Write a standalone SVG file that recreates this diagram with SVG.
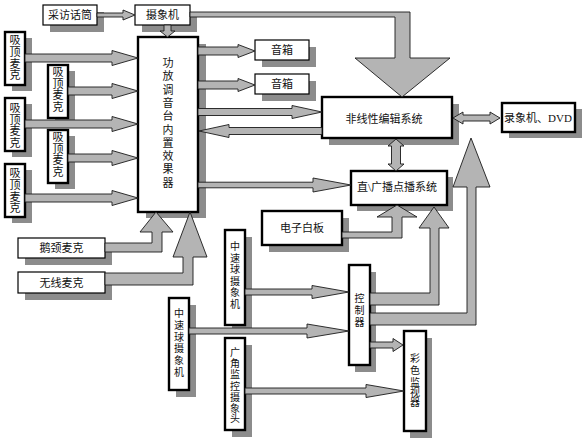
<svg xmlns="http://www.w3.org/2000/svg" width="586" height="444" viewBox="0 0 586 444">
<style>
.sh{fill:#8c8c8c}
.b1{fill:#fff;stroke:#000;stroke-width:1.2}
.b2{fill:#fff;stroke:#000;stroke-width:2.4}
.ar{fill:#b4b4b4;stroke:#1a1a1a;stroke-width:0.9;stroke-linejoin:miter}
text{font-family:"Liberation Serif","Noto Sans CJK SC",serif;font-size:11px;fill:#111;text-anchor:middle}
.s{font-size:10px}
</style>
<rect width="586" height="444" fill="#fff"/>
<g id="n-caifang"><rect class="sh" x="50" y="12" width="54" height="20"/><rect class="b1" x="43" y="5" width="54" height="20"/><text x="70" y="19">采访话筒</text></g>
<g id="n-shexiangji"><rect class="sh" x="142" y="12" width="55" height="20"/><rect class="b1" x="135" y="5" width="55" height="20"/><text x="162.5" y="19">摄象机</text></g>
<g id="n-mic1"><rect class="sh" x="12" y="38" width="20" height="53"/><rect class="b2" x="5" y="32" width="20" height="53"/><text x="15" y="44">吸</text><text x="15" y="56">顶</text><text x="15" y="67.5">麦</text><text x="15" y="79">克</text></g>
<g id="n-mic2"><rect class="sh" x="55" y="71" width="20" height="53"/><rect class="b2" x="48" y="65" width="20" height="53"/><text x="58" y="76">吸</text><text x="58" y="87.5">顶</text><text x="58" y="99">麦</text><text x="58" y="111">克</text></g>
<g id="n-mic3"><rect class="sh" x="12" y="104" width="20" height="53"/><rect class="b2" x="5" y="98" width="20" height="53"/><text x="15" y="112">吸</text><text x="15" y="124">顶</text><text x="15" y="135">麦</text><text x="15" y="147">克</text></g>
<g id="n-mic4"><rect class="sh" x="55" y="136" width="20" height="53"/><rect class="b2" x="48" y="130" width="20" height="53"/><text x="58" y="141">吸</text><text x="58" y="153">顶</text><text x="58" y="164">麦</text><text x="58" y="176">克</text></g>
<g id="n-mic5"><rect class="sh" x="12" y="170" width="20" height="53"/><rect class="b2" x="5" y="164" width="20" height="53"/><text x="15" y="177">吸</text><text x="15" y="189">顶</text><text x="15" y="201">麦</text><text x="15" y="212">克</text></g>
<g id="n-mixer"><rect class="sh" x="146" y="44" width="60" height="174"/><rect class="b2" x="138" y="37" width="60" height="175"/><text x="168" y="67">功</text><text x="168" y="80.3">放</text><text x="168" y="93.6">调</text><text x="168" y="106.9">音</text><text x="168" y="120.2">台</text><text x="168" y="133.5">内</text><text x="168" y="146.8">置</text><text x="168" y="160.1">效</text><text x="168" y="173.4">果</text><text x="168" y="186.7">器</text></g>
<g id="n-spk1"><rect class="sh" x="262" y="47" width="54" height="20"/><rect class="b1" x="255" y="40" width="54" height="20"/><text x="282" y="54">音箱</text></g>
<g id="n-spk2"><rect class="sh" x="262" y="81" width="54" height="20"/><rect class="b1" x="255" y="74" width="54" height="20"/><text x="282" y="88">音箱</text></g>
<g id="n-nle"><rect class="sh" x="329" y="104" width="130" height="41"/><rect class="b2" x="322" y="97" width="130" height="41"/><text x="384" y="123">非线性编辑系统</text></g>
<g id="n-dvd"><rect class="sh" x="509" y="109" width="73" height="29"/><rect class="b2" x="502" y="103" width="73" height="29"/><text x="538" y="122">录象机、DVD</text></g>
<g id="n-broadcast"><rect class="sh" x="357" y="177" width="96" height="34"/><rect class="b2" x="351" y="171" width="96" height="34"/><text x="397" y="191">直\广播点播系统</text></g>
<g id="n-whiteboard"><rect class="sh" x="269" y="218" width="80" height="34"/><rect class="b2" x="262" y="211" width="80" height="34"/><text x="302" y="232">电子白板</text></g>
<g id="n-gooseneck"><rect class="sh" x="25" y="245" width="87" height="20"/><rect class="b1" x="18" y="238" width="87" height="20"/><text x="61.5" y="252">鹅颈麦克</text></g>
<g id="n-wireless"><rect class="sh" x="25" y="279" width="87" height="21"/><rect class="b1" x="18" y="272" width="87" height="21"/><text x="61.5" y="287">无线麦克</text></g>
<g id="n-cam1"><rect class="sh" x="232" y="237" width="20" height="95"/><rect class="b2" x="225" y="230" width="20" height="95"/><text class="s" x="235" y="250">中</text><text class="s" x="235" y="261.5">速</text><text class="s" x="235" y="273">球</text><text class="s" x="235" y="284.5">摄</text><text class="s" x="235" y="296">象</text><text class="s" x="235" y="308">机</text></g>
<g id="n-cam2"><rect class="sh" x="176" y="305" width="20" height="92"/><rect class="b2" x="169" y="298" width="20" height="92"/><text class="s" x="179" y="317">中</text><text class="s" x="179" y="329">速</text><text class="s" x="179" y="341">球</text><text class="s" x="179" y="352">摄</text><text class="s" x="179" y="364">象</text><text class="s" x="179" y="376">机</text></g>
<g id="n-widecam"><rect class="sh" x="232" y="345" width="20" height="92"/><rect class="b2" x="225" y="338" width="20" height="92"/><text class="s" x="235" y="356">广</text><text class="s" x="235" y="367">角</text><text class="s" x="235" y="378">监</text><text class="s" x="235" y="390">控</text><text class="s" x="235" y="401">摄</text><text class="s" x="235" y="412">象</text><text class="s" x="235" y="422">头</text></g>
<g id="n-controller"><rect class="sh" x="355" y="272" width="21" height="100"/><rect class="b2" x="349" y="265" width="21" height="100"/><text class="s" x="359.5" y="302">控</text><text class="s" x="359.5" y="314">制</text><text class="s" x="359.5" y="326">器</text></g>
<g id="n-monitor"><rect class="sh" x="410" y="338" width="22" height="100"/><rect class="b2" x="404" y="331" width="22" height="100"/><text class="s" x="415" y="362">彩</text><text class="s" x="415" y="374">色</text><text class="s" x="415" y="386">监</text><text class="s" x="415" y="396">视</text><text class="s" x="415" y="406">器</text></g>
<g id="connectors">
<polygon class="ar" points="97,13 123,13 123,10 135,15 123,20 123,17 97,17"/>
<polygon class="ar" points="164,25 171,25 171,31 175,31 167.5,37 160,31 164,31"/>
<polygon class="ar" points="190,12 410,12 410,58 450,58 402,97 355,58 395,58 395,17 190,17"/>
<polygon class="ar" points="25,54 112,54 112,50.5 138,58 112,65.5 112,62 25,62"/>
<polygon class="ar" points="68,87 112,87 112,83.5 138,91 112,98.5 112,95 68,95"/>
<polygon class="ar" points="25,120 112,120 112,116.5 138,124 112,131.5 112,128 25,128"/>
<polygon class="ar" points="68,154 112,154 112,150.5 138,158 112,165.5 112,162 68,162"/>
<polygon class="ar" points="25,194 112,194 112,190.5 138,198 112,205.5 112,202 25,202"/>
<polygon class="ar" points="198,47 238,47 238,44.5 255,51 238,57.5 238,55 198,55"/>
<polygon class="ar" points="198,81 238,81 238,78.5 255,85 238,91.5 238,89 198,89"/>
<polygon class="ar" points="198,108.5 292,108.5 292,105.5 322,112 292,118.5 292,115.5 198,115.5"/>
<polygon class="ar" points="322,127.5 229,127.5 229,124.5 199,131 229,137.5 229,134.5 322,134.5"/>
<polygon class="ar" points="198,182.2 313,182.2 313,178 351,185 313,192 313,187.8 198,187.8"/>
<polygon class="ar" points="453,118 463,112 463,115 490,115 490,112 500,118 490,124 490,121 463,121 463,124"/>
<polygon class="ar" points="396,139 404,146 400.5,146 400.5,164 404,164 396,171 388,164 391.5,164 391.5,146 388,146"/>
<polygon class="ar" points="105,243 152,243 152,232 140,232 156,212 173,232 162,232 162,252 105,252"/>
<polygon class="ar" points="105,273 183,273 183,257 173,257 190,212 207,257 193,257 193,285 105,285"/>
<polygon class="ar" points="342,232 392,232 392,217 377,217 397,205 417,217 402,217 402,238 342,238"/>
<polygon class="ar" points="370,293 430,293 430,228 419,228 434,207 449,228 439,228 439,305 370,305"/>
<polygon class="ar" points="370,313 467,313 467,187 453,187 471,138 490,187 476,187 476,325 370,325"/>
<polygon class="ar" points="245,289 312,289 312,285.5 349,292 312,298.5 312,295 245,295"/>
<polygon class="ar" points="189,328 307,328 307,324 349,331 307,338 307,334 189,334"/>
<polygon class="ar" points="245,388 366,388 366,384.5 404,391 366,397.5 366,394 245,394"/>
<polygon class="ar" points="370,342 393,342 393,338.5 403,345 393,351.5 393,348 370,348"/>
</g>
</svg>
